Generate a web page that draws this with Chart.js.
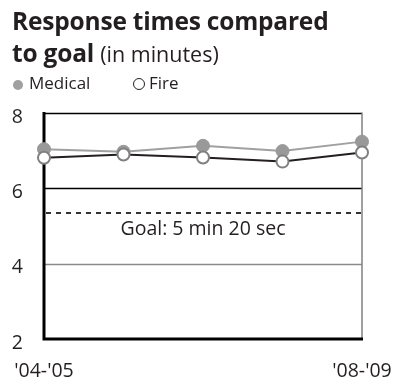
<!DOCTYPE html>
<html>
<head>
<meta charset="utf-8">
<script src="https://cdn.jsdelivr.net/npm/chart.js@4/dist/chart.umd.min.js"></script>
<style>
  html, body { margin: 0; padding: 0; background: #fff; }
  body { width: 398px; height: 384px; position: relative; overflow: hidden;
         font-family: "Open Sans", sans-serif; color: #231f20; }
  #title { position: absolute; left: 12px; top: 5px; font-size: 24.5px; line-height: 32px;
           font-weight: 700; letter-spacing: -0.2px; }
  #title .unit { font-weight: 400; font-size: 21.5px; letter-spacing: 0; }
  #legend { position: absolute; left: 13px; top: 73px; font-size: 17px; line-height: 20px; }
  #legend span.item { display: inline-block; }
  #legend span.item.first { width: 120px; }
  .dot { display: inline-block; width: 10px; height: 10px; border-radius: 50%;
         vertical-align: -1px; margin-right: 6px; box-sizing: border-box; }
  .dot.med { background: #a0a0a0; }
  .dot.fire { background: #fff; border: 1.5px solid #231f20; width: 12px; height: 12px; margin-right: 4px; vertical-align: -1px; }
  #wrap { position: absolute; left: 0; top: 0; }
</style>
</head>
<body>
<div id="wrap"><canvas id="c" width="398" height="384"></canvas></div>
<div id="title">Response times compared<br>to goal <span class="unit">(in minutes)</span></div>
<div id="legend"><span class="item first"><span class="dot med"></span>Medical</span><span class="item"><span class="dot fire"></span>Fire</span></div>
<script>
// Fiscal years along the x axis
const years = ["'04-'05", "'05-'06", "'06-'07", "'07-'08", "'08-'09"];
// Average response times, minutes
const medical = [7.04, 6.97, 7.13, 6.99, 7.24];
const fire = [6.81, 6.90, 6.82, 6.71, 6.95];
// Y axis range and the response-time goal (5 min 20 sec)
const yTicks = [2, 4, 6, 8];
const goal = 5 + 20 / 60;
const goalLabel = "Goal: 5 min 20 sec";

const ink = '#231f20';

// Dashed goal line with its caption, plus the frame around the plot
const frame = {
  id: 'frame',
  beforeDatasetsDraw(chart) {
    const { ctx, chartArea: a, scales: { y } } = chart;
    ctx.save();
    // horizontal rules at 8 and 6 (black) and 4 (grey)
    yTicks.forEach(v => {
      if (v === yTicks[0]) return;
      const py = Math.round(y.getPixelForValue(v)) + 0.5;
      ctx.strokeStyle = v === 4 ? '#8a8a8a' : '#000';
      ctx.lineWidth = v === 4 ? 1.6 : 1.4;
      ctx.beginPath();
      ctx.moveTo(a.left, py);
      ctx.lineTo(a.right, py);
      ctx.stroke();
    });
    // grey right edge
    ctx.strokeStyle = '#808080';
    ctx.lineWidth = 1.5;
    ctx.beginPath();
    ctx.moveTo(a.right, a.top - 0.5);
    ctx.lineTo(a.right, a.bottom);
    ctx.stroke();
    // goal line
    const gy = Math.round(y.getPixelForValue(goal));
    ctx.strokeStyle = '#333';
    ctx.lineWidth = 2;
    ctx.setLineDash([5, 5]);
    ctx.beginPath();
    ctx.moveTo(a.left + 2, gy);
    ctx.lineTo(a.right, gy);
    ctx.stroke();
    ctx.setLineDash([]);
    ctx.fillStyle = ink;
    ctx.font = '19.5px "Open Sans", sans-serif';
    ctx.textAlign = 'center';
    ctx.textBaseline = 'middle';
    ctx.fillText(goalLabel, (a.left + a.right) / 2, gy + 16);
    // heavy left and bottom axes
    ctx.strokeStyle = '#000';
    ctx.lineWidth = 3;
    ctx.beginPath();
    ctx.moveTo(a.left, a.top - 1);
    ctx.lineTo(a.left, a.bottom);
    ctx.lineTo(a.right + 1, a.bottom);
    ctx.stroke();
    ctx.restore();
  }
};

new Chart(document.getElementById('c'), {
  type: 'line',
  data: {
    labels: years,
    datasets: [
      {
        label: 'Fire',
        data: fire,
        borderColor: ink,
        borderWidth: 2,
        pointRadius: 6,
        pointBackgroundColor: '#fff',
        pointBorderColor: '#808080',
        pointBorderWidth: 2,
        tension: 0,
        order: 1
      },
      {
        label: 'Medical',
        data: medical,
        borderColor: '#a0a0a0',
        borderWidth: 2,
        pointRadius: 6.5,
        pointBackgroundColor: '#999',
        pointBorderColor: '#999',
        pointBorderWidth: 1,
        tension: 0,
        order: 2
      }
    ]
  },
  options: {
    responsive: false,
    animation: false,
    events: [],
    layout: { padding: { left: 0, right: 36, top: 113, bottom: 0 } },
    plugins: { legend: { display: false }, tooltip: { enabled: false } },
    scales: {
      x: {
        offset: false,
        border: { display: false },
        grid: { display: false, drawTicks: false },
        ticks: {
          autoSkip: false,
          maxRotation: 0,
          padding: 21,
          color: ink,
          font: { family: '"Open Sans", sans-serif', size: 19.5 },
          callback: (v, i) => (i === 0 || i === years.length - 1) ? years[i] : ''
        },
        afterFit: (s) => { s.height = 45; s.paddingLeft = 0; s.paddingRight = 0; }
      },
      y: {
        min: yTicks[0],
        max: yTicks[yTicks.length - 1],
        afterBuildTicks: (s) => { s.ticks = yTicks.map(v => ({ value: v })); },
        border: { display: false },
        grid: { display: false, drawTicks: false },
        ticks: {
          padding: 21,
          labelOffset: 4,
          color: ink,
          font: { family: '"Open Sans", sans-serif', size: 19.5 }
        },
        afterFit: (s) => { s.width = 44; s.paddingTop = 0; s.paddingBottom = 0; }
      }
    }
  },
  plugins: [frame]
});
</script>
</body>
</html>
